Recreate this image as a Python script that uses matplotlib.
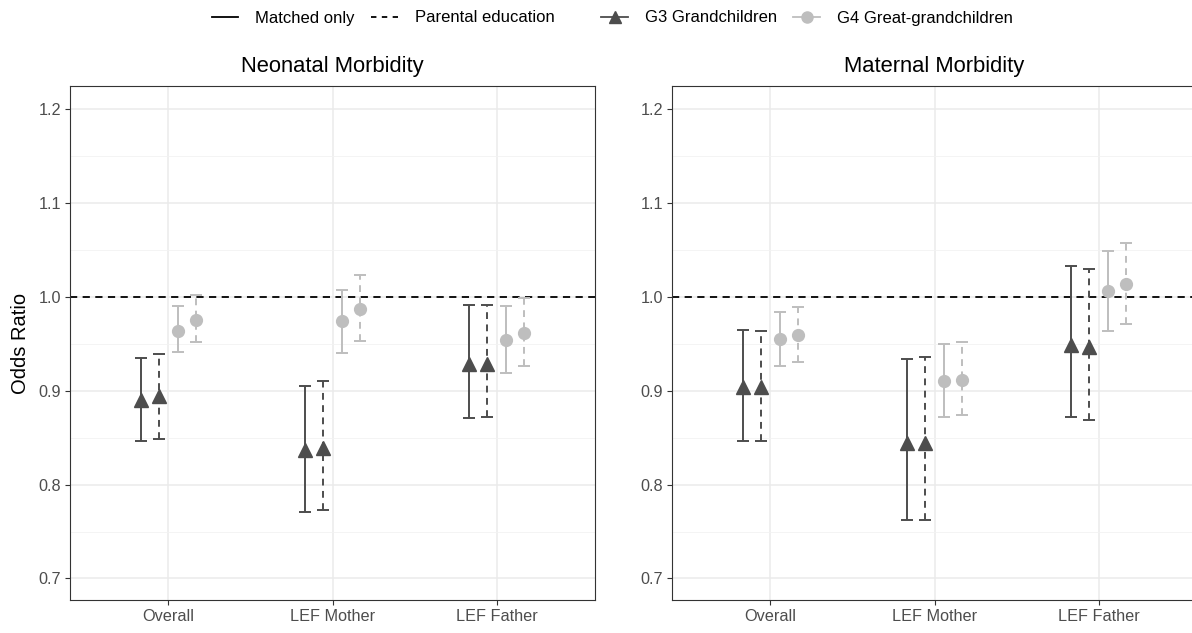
import numpy as np
import matplotlib.pyplot as plt
from matplotlib.lines import Line2D

plt.rcParams['font.family'] = ['Liberation Sans', 'DejaVu Sans']

categories = ['Overall', 'LEF Mother', 'LEF Father']
panels = ['Neonatal Morbidity', 'Maternal Morbidity']

# odds ratios: [panel][category]
g3_matched = [[0.890, 0.837, 0.929], [0.904, 0.844, 0.949]]
g3_matched_lo = [[0.846, 0.771, 0.871], [0.846, 0.762, 0.872]]
g3_matched_hi = [[0.935, 0.905, 0.991], [0.965, 0.934, 1.033]]

g3_parent = [[0.894, 0.839, 0.929], [0.904, 0.844, 0.947]]
g3_parent_lo = [[0.849, 0.773, 0.872], [0.846, 0.762, 0.869]]
g3_parent_hi = [[0.939, 0.910, 0.992], [0.964, 0.936, 1.030]]

g4_matched = [[0.964, 0.974, 0.954], [0.955, 0.910, 1.006]]
g4_matched_lo = [[0.941, 0.940, 0.919], [0.926, 0.872, 0.964]]
g4_matched_hi = [[0.990, 1.008, 0.990], [0.984, 0.950, 1.049]]

g4_parent = [[0.976, 0.987, 0.962], [0.959, 0.912, 1.014]]
g4_parent_lo = [[0.952, 0.953, 0.926], [0.931, 0.874, 0.971]]
g4_parent_hi = [[1.002, 1.023, 0.999], [0.989, 0.952, 1.058]]

dark = '#4d4d4d'
light = '#bebebe'

series = [
    (g3_matched, g3_matched_lo, g3_matched_hi, dark, '^', '-', -0.169),
    (g3_parent, g3_parent_lo, g3_parent_hi, dark, '^', '--', -0.056),
    (g4_matched, g4_matched_lo, g4_matched_hi, light, 'o', '-', 0.056),
    (g4_parent, g4_parent_lo, g4_parent_hi, light, 'o', '--', 0.169),
]

fig = plt.figure(figsize=(11.92, 6.33), dpi=100)
ax1 = fig.add_axes([70 / 1192, 1 - 600 / 633, 525 / 1192, 514 / 633])
ax2 = fig.add_axes([672 / 1192, 1 - 600 / 633, 525 / 1192, 514 / 633])

x = np.arange(1, len(categories) + 1)

for p, ax in enumerate([ax1, ax2]):
    ax.set_xlim(0.4, 3.6)
    ax.set_ylim(0.677, 1.225)
    ax.set_yticks([0.7, 0.8, 0.9, 1.0, 1.1, 1.2])
    ax.set_yticks([0.75, 0.85, 0.95, 1.05, 1.15], minor=True)
    ax.set_xticks(x)
    ax.set_xticklabels(categories)
    ax.grid(True, which='major', color='#ebebeb', linewidth=1.1)
    ax.grid(True, which='minor', axis='y', color='#f2f2f2', linewidth=0.6)
    ax.set_axisbelow(True)
    ax.tick_params(axis='both', which='major', labelsize=11.7, colors='#333333',
                   length=3.5, width=0.8, labelcolor='#4d4d4d', pad=3)
    ax.tick_params(axis='both', which='minor', length=0)
    for s in ax.spines.values():
        s.set_color('#333333')
        s.set_linewidth(0.8)
    ax.axhline(1.0, color='black', linestyle=(0, (4, 3)), linewidth=1.3, zorder=2)
    ax.set_title(panels[p], fontsize=15.8, pad=10)

    for vals, lo, hi, col, mk, ls, off in series:
        v = np.array(vals[p])
        err = [v - np.array(lo[p]), np.array(hi[p]) - v]
        eb = ax.errorbar(x + off, v, yerr=err, fmt='none', ecolor=col,
                         elinewidth=1.4, capsize=4, capthick=1.4, zorder=3)
        eb[2][0].set_linestyle((0, (3.5, 2.8)) if ls == '--' else '-')
        ax.plot(x + off, v, linestyle='none', marker=mk, color=col,
                markersize=10 if mk == '^' else 8.5, zorder=4)

ax1.set_ylabel('Odds Ratio', fontsize=14.5, labelpad=6)

# legends
lt_handles = [Line2D([], [], color='black', linestyle='-', linewidth=1.3),
              Line2D([], [], color='black', linestyle=(0, (3, 3)), linewidth=1.3)]
leg1 = fig.legend(lt_handles, ['Matched only', 'Parental education'], ncol=2,
                  loc='center', bbox_to_anchor=(383 / 1192, 1 - 18 / 633),
                  frameon=False, fontsize=12, handlelength=1.6, columnspacing=1.0,
                  handletextpad=1.0)
g_handles = [Line2D([], [], color=dark, marker='^', markersize=9, linewidth=1.3),
             Line2D([], [], color=light, marker='o', markersize=8, linewidth=1.3)]
leg2 = fig.legend(g_handles, ['G3 Grandchildren', 'G4 Great-grandchildren'], ncol=2,
                  loc='center', bbox_to_anchor=(807 / 1192, 1 - 18 / 633),
                  frameon=False, fontsize=12, handlelength=1.6, columnspacing=1.0,
                  handletextpad=1.0)

fig.savefig('out.png', dpi=100)
